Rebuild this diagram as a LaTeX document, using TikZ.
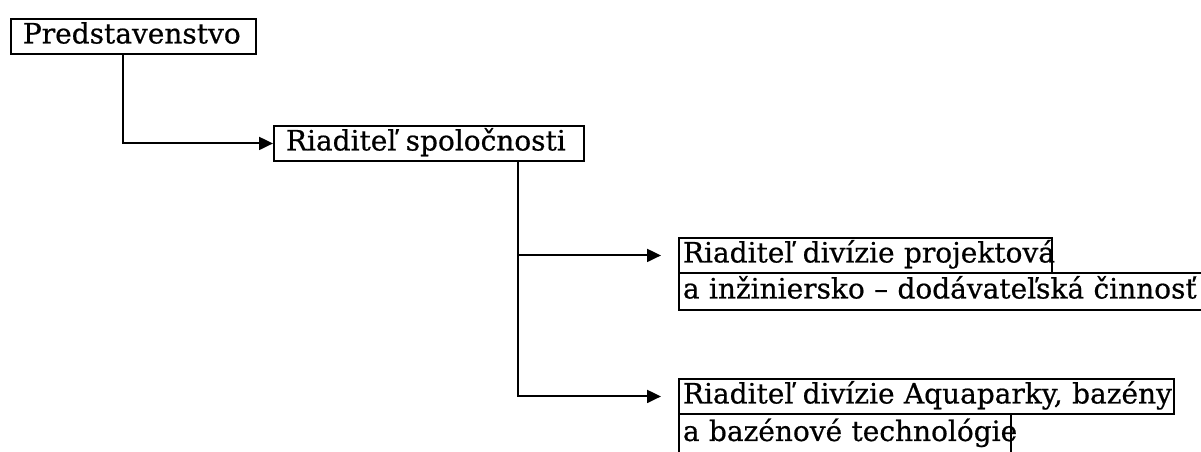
\documentclass[tikz,border=0pt]{standalone}
\usepackage{fontspec}
\setmainfont[FakeBold=0.6]{DejaVu Serif}
\usetikzlibrary{arrows.meta}
\tikzset{
  box/.style={draw, line width=1.9pt, anchor=north west, inner ysep=0pt,
    font=\fontsize{28}{32}\selectfont, text height=20pt, text depth=6pt, align=left},
  conn/.style={line width=2pt, -{Triangle[length=14pt,width=13pt]}, shorten >=17pt},
  connb/.style={line width=2pt, -{Triangle[length=14pt,width=13pt]}}
}
\begin{document}
\begin{tikzpicture}[x=1pt,y=-1pt]
\useasboundingbox (0,0) rectangle (1201,452);
\clip (0,0) rectangle (1201,452);
\fill[white] (0,0) rectangle (1201,452);
\node[box, inner xsep=12pt, text width=221pt, minimum height=35pt] (pred) at (10,18) {\mbox{Predstavenstvo}};
\node[box, inner xsep=12pt, text width=286pt, minimum height=35pt] (rs) at (273,125) {\mbox{Riaditeľ spoločnosti}};
\node[box, inner xsep=4pt, text width=365pt, minimum height=35pt] (da) at (678,237) {\mbox{Riaditeľ divízie projektová}};
\node[box, inner xsep=4pt, text width=530pt, minimum height=37pt] (db) at (678,272) {\mbox{a inžiniersko – dodávateľská činnosť}};
\node[box, inner xsep=4pt, text width=487pt, minimum height=35pt] (dc) at (678,378) {\mbox{Riaditeľ divízie Aquaparky, bazény}};
\node[box, inner xsep=4pt, text width=324pt, minimum height=40pt] (dd) at (678,413) {\mbox{a bazénové technológie}};
\coordinate (p1) at ([xshift=113pt]pred.south west);
\coordinate (r1) at ([xshift=245pt]rs.south west);
\draw[connb] (p1) |- (rs.west);
\draw[conn] (r1) |- (da.west);
\draw[conn] (r1) |- (dc.west);
\end{tikzpicture}
\end{document}
